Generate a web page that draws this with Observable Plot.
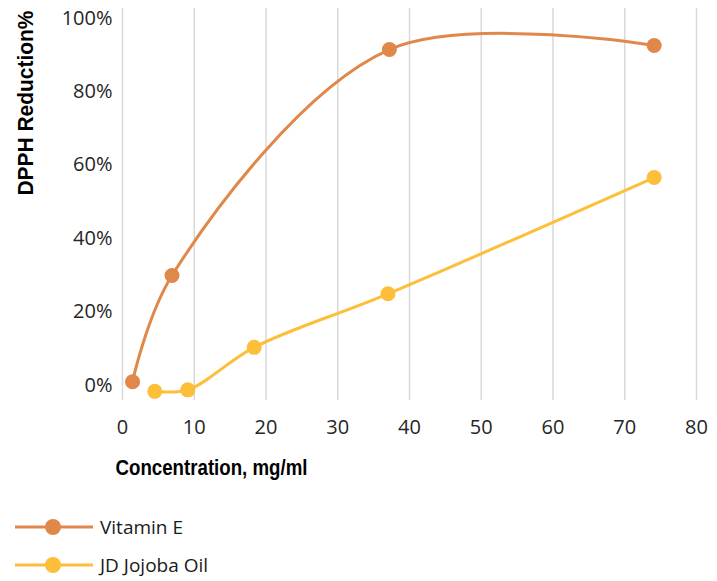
<!DOCTYPE html>
<html>
<head>
<meta charset="utf-8">
<script src="https://cdn.jsdelivr.net/npm/d3@7"></script>
<script src="https://cdn.jsdelivr.net/npm/@observablehq/plot@0.6"></script>
<style>
  html, body { margin: 0; padding: 0; background: #fff; }
  #chart { width: 717px; }
  .legend { padding-top: 8px; font-family: "Open Sans", sans-serif; font-size: 19px; color: #1a1a1a; }
  .legend .row { height: 38px; display: flex; align-items: center; }
  .legend svg { display: block; margin-left: 15px; margin-right: 7px; }
</style>
</head>
<body>
<div id="chart"></div>
<script>
// Data
const seriesNames = ["Vitamin E", "JD Jojoba Oil"];
const seriesColors = ["#DF884A", "#FDBE3A"];
const vitaminE_x = [1.4, 6.9, 37.2, 74.1];
const vitaminE_y = [0.9, 29.9, 91.5, 92.6];
const jojoba_x = [4.5, 9.1, 18.35, 37.0, 74.1];
const jojoba_y = [-1.7, -1.3, 10.3, 24.9, 56.6];
const xTicks = [0, 10, 20, 30, 40, 50, 60, 70, 80];
const yTicks = [0, 20, 40, 60, 80, 100];
const xTitle = "Concentration, mg/ml";
const yTitle = "DPPH Reduction%";

const rows = [
  ...vitaminE_x.map((x, i) => ({series: seriesNames[0], x, y: vitaminE_y[i]})),
  ...jojoba_x.map((x, i) => ({series: seriesNames[1], x, y: jojoba_y[i]}))
];

const titleFont = '"Liberation Sans", Arial, sans-serif';

const plot = Plot.plot({
  width: 717,
  height: 500,
  marginLeft: 122,
  marginRight: 21,
  marginTop: 8,
  marginBottom: 100,
  style: {fontFamily: '"Open Sans", sans-serif', fontSize: "20px", color: "#262626", background: "#fff"},
  x: {domain: [0, 80]},
  y: {domain: [-4.2, 102.7]},
  color: {domain: seriesNames, range: seriesColors},
  marks: [
    Plot.ruleX(xTicks, {stroke: "#d9d9d9", strokeWidth: 1.5}),
    Plot.axisX({ticks: xTicks, tickSize: 0, tickPadding: 19, label: null}),
    Plot.axisY({ticks: yTicks, tickSize: 0, tickPadding: 10, tickFormat: d => d + "%", label: null}),
    Plot.line(rows, {x: "x", y: "y", z: "series", stroke: "series", strokeWidth: 3, curve: "catmull-rom"}),
    Plot.dot(rows, {x: "x", y: "y", fill: "series", r: 7.5, stroke: null}),
    Plot.text([yTitle], {frameAnchor: "top-left", rotate: -90, textAnchor: "end", lineAnchor: "middle",
      dx: -97, dy: 2, fontSize: 22, fontWeight: "bold", fontFamily: titleFont, fill: "#000"}),
    Plot.text([xTitle], {frameAnchor: "bottom-left", textAnchor: "start", lineAnchor: "middle",
      dx: -7, dy: 67, fontSize: 22, fontWeight: "bold", fontFamily: titleFont, fill: "#000"})
  ]
});
// fit the axis titles to the reference widths
d3.select(plot).selectAll("text").each(function() {
  const t = this.textContent;
  if (t === yTitle) { this.setAttribute("textLength", 185); this.setAttribute("lengthAdjust", "spacingAndGlyphs"); }
  if (t === xTitle) { this.setAttribute("textLength", 192); this.setAttribute("lengthAdjust", "spacingAndGlyphs"); }
});
document.getElementById("chart").appendChild(plot);

// Legend below the plot
const legend = document.createElement("div");
legend.className = "legend";
seriesNames.forEach((name, i) => {
  const row = document.createElement("div");
  row.className = "row";
  row.innerHTML = `<svg width="78" height="20"><line x1="0" x2="78" y1="10" y2="10" stroke="${seriesColors[i]}" stroke-width="3"/><circle cx="38" cy="10" r="8" fill="${seriesColors[i]}"/></svg><span>${name}</span>`;
  legend.appendChild(row);
});
document.getElementById("chart").appendChild(legend);
</script>
</body>
</html>
